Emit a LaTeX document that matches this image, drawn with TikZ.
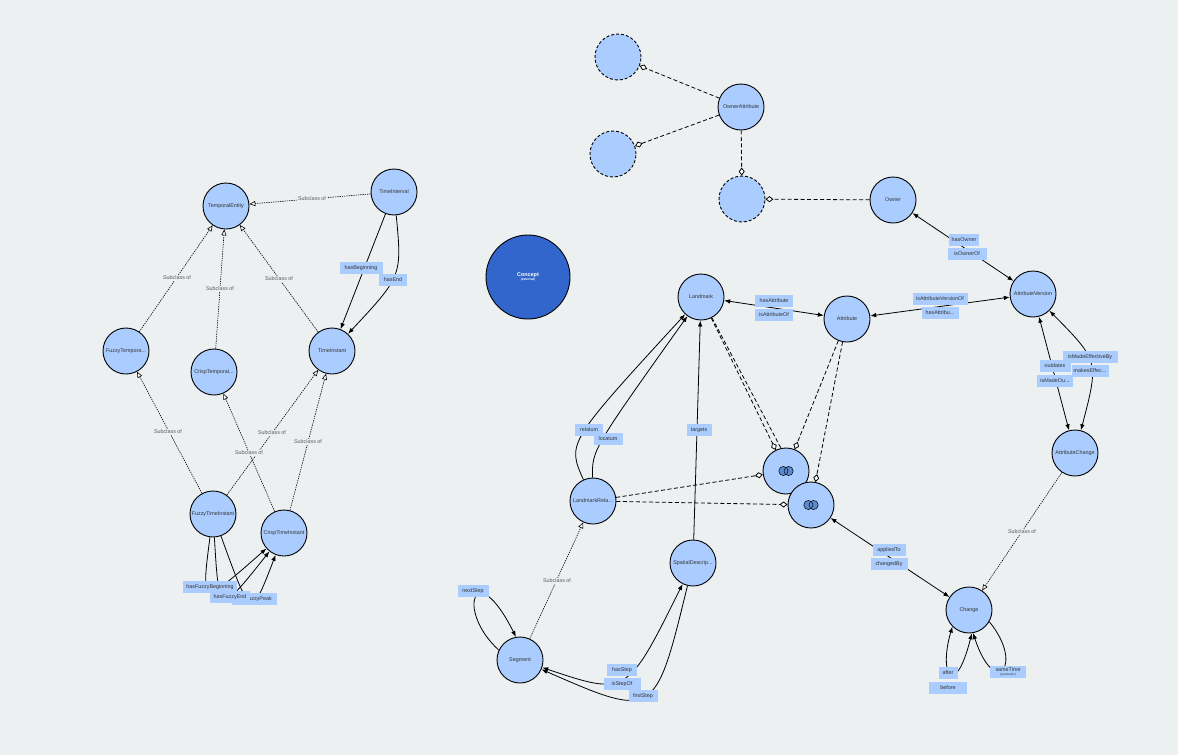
\documentclass[tikz,border=0pt]{standalone}
\usepackage{fontspec}
\setmainfont{Liberation Sans}
\usetikzlibrary{arrows.meta,calc}
\definecolor{bgc}{HTML}{ECF0F1}
\definecolor{clsblue}{HTML}{AACCFF}
\definecolor{extblue}{HTML}{3366CC}
\definecolor{iconblue}{HTML}{5A8CD2}
\pgfdeclarelayer{bgl}
\pgfdeclarelayer{edges}
\pgfsetlayers{bgl,edges,main}
\begin{document}
\begin{tikzpicture}[x=1pt,y=-1pt,
  font=\fontsize{5.4}{6}\selectfont,
  cls/.style={circle,draw=black,line width=0.9pt,fill=clsblue,minimum size=46pt,inner sep=0pt,text=black!80},
  dcls/.style={cls,dash pattern=on 3pt off 2pt},
  extcls/.style={circle,draw=black,line width=0.9pt,fill=extblue,minimum size=84pt,inner sep=0pt,text=white,align=center},
  prop/.style={fill=clsblue,text=black!80,inner xsep=1pt,inner ysep=0pt,minimum height=12.5pt},
  sub/.style={fill=bgc,text=black!65,inner sep=1.5pt},
  subedge/.style={line width=0.6pt,dash pattern=on 1.3pt off 1pt,-{Triangle[open,fill=white,length=6pt,width=5pt]}},
  objedge/.style={line width=0.8pt,-{Latex[length=6pt,width=4.5pt]}},
  biedge/.style={line width=0.8pt,{Latex[length=6pt,width=4.5pt]}-{Latex[length=6pt,width=4.5pt]}},
  setedge/.style={line width=0.8pt,dash pattern=on 4pt off 2.5pt,-{Diamond[fill=white,length=8pt,width=6pt]}},
]
\begin{pgfonlayer}{bgl}
\fill[bgc] (0,0) rectangle (1178,755);
\end{pgfonlayer}
\useasboundingbox (0,0) rectangle (1178,755);

% ---- class nodes ----
\node[cls] (te) at (226,206) {TemporalEntity};
\node[cls] (tint) at (394,192) {TimeInterval};
\node[cls] (fte) at (126,351) {FuzzyTempora...};
\node[cls] (cte) at (214,372) {CrispTemporal...};
\node[cls] (tin) at (332,351) {TimeInstant};
\node[cls] (fti) at (213,514) {FuzzyTimeInstant};
\node[cls] (cti) at (284,533) {CrispTimeInstant};
\node[extcls] (concept) at (528,277) {\textbf{Concept}\\[-2pt]{\fontsize{3.2}{4}\selectfont\bfseries (external)}};
\node[cls] (oa) at (741,107) {OwnerAttribute};
\node[dcls] (d1) at (618,57) {};
\node[dcls] (d2) at (613,154) {};
\node[dcls] (d3) at (742,199) {};
\node[cls] (owner) at (893,200) {Owner};
\node[cls] (lm) at (701,297) {Landmark};
\node[cls] (attr) at (847,319) {Attribute};
\node[cls] (av) at (1033,294) {AttributeVersion};
\node[cls] (ac) at (1075,453) {AttributeChange};
\node[cls] (lr) at (593,501) {LandmarkRela...};
\node[cls] (u1) at (786,471) {};
\node[cls] (u2) at (811,505) {};
\node[cls] (sd) at (693,563) {SpatialDescrip...};
\node[cls] (seg) at (520,660) {Segment};
\node[cls] (chg) at (969,610) {Change};

% union icons
\foreach \u in {u1,u2}{
  \fill[iconblue] ($(\u)+(-2.6,0)$) circle (4.6);
  \fill[iconblue] ($(\u)+(2.6,0)$) circle (4.6);
  \draw[line width=0.5pt] ($(\u)+(-2.6,0)$) circle (4.6);
  \draw[line width=0.5pt] ($(\u)+(2.6,0)$) circle (4.6);
}

% ---- edges ----
\begin{pgfonlayer}{edges}
% subclass
\draw[subedge] (tint) -- (te);
\draw[subedge] (fte) -- (te);
\draw[subedge] (cte) -- (te);
\draw[subedge] (tin) -- (te);
\draw[subedge] (fti) -- (fte);
\draw[subedge] (fti) -- (tin);
\draw[subedge] (cti) -- (cte);
\draw[subedge] (cti) -- (tin);
\draw[subedge] (ac) -- (chg);
\draw[subedge] (seg) -- (lr);
% object properties
\draw[objedge] (tint) -- (tin);
\draw[objedge] (tint) .. controls (402,276) .. (tin);
\draw[objedge] (fti) .. controls (201,606) .. (cti);
\draw[objedge] (fti) .. controls (219,615) .. (cti);
\draw[objedge] (fti) .. controls (251,619) .. (cti);
\draw[biedge] (lm) -- (attr);
\draw[biedge] (attr) -- (av);
\draw[biedge] (owner) -- (av);
\draw[biedge] (av) -- (ac);
\draw[biedge] (av) .. controls (1099,361) .. (ac);
\draw[biedge] (u2) -- (chg);
\draw[objedge] (sd) -- (lm);
\draw[objedge] (lr) .. controls (567,443) .. (lm);
\draw[objedge] (lr) .. controls (592,450) .. (lm);
\draw[biedge] (sd) .. controls (627,696) .. (seg);
\draw[objedge] (sd) .. controls (655,719) .. (seg);
\draw[objedge] (seg.155) .. controls (455,610) and (475,555) .. (seg.100);
\draw[biedge] (chg.225) .. controls (938,675) and (955,700) .. (chg.277);
\draw[objedge] (chg.-30) .. controls (1025,665) and (995,700) .. (chg.-80);
% set operators
\draw[setedge] (oa) -- (d1);
\draw[setedge] (oa) -- (d2);
\draw[setedge] (oa) -- (d3);
\draw[setedge] (owner) -- (d3);
\draw[setedge] (lm) -- (u1);
\draw[setedge] (lm) -- (u2);
\draw[setedge] (attr) -- (u1);
\draw[setedge] (attr) -- (u2);
\draw[setedge] (lr) -- (u1);
\draw[setedge] (lr) -- (u2);
\end{pgfonlayer}

% ---- subclass labels ----
\node[sub] (s1) at (312,199) {Subclass of};
\node[sub] (s2) at (177,278) {Subclass of};
\node[sub] (s3) at (220,289) {Subclass of};
\node[sub] (s4) at (279,279) {Subclass of};
\node[sub] (s5) at (168,432) {Subclass of};
\node[sub] (s6) at (272,433) {Subclass of};
\node[sub] (s7) at (249,453) {Subclass of};
\node[sub] (s8) at (308,442) {Subclass of};
\node[sub] (s9) at (557,581) {Subclass of};
\node[sub] (s10) at (1022,532) {Subclass of};

% ---- property labels ----
\node[prop,minimum width=43pt] (p1) at (361,268) {hasBeginning};
\node[prop,minimum width=28pt] (p2) at (393,280) {hasEnd};
\node[prop,minimum width=54pt] (p3) at (210,587) {hasFuzzyBeginning};
\node[prop,minimum width=45pt] (p4) at (254,599) {hasFuzzyPeak};
\node[prop,minimum width=40pt] (p5) at (230,597) {hasFuzzyEnd};
\node[prop,minimum width=38pt] (p6) at (774,301) {hasAttribute};
\node[prop,minimum width=38pt] (p7) at (774,315) {isAttributeOf};
\node[prop,minimum width=55pt] (p8) at (940,299) {isAttributeVersionOf};
\node[prop,minimum width=37pt] (p9) at (940,313) {hasAttribu...};
\node[prop,minimum width=30pt] (p10) at (964,240) {hasOwner};
\node[prop,minimum width=39pt] (p11) at (967,254) {isOwnerOf};
\node[prop,minimum width=31pt] (p12) at (1055,366) {outdates};
\node[prop,minimum width=36pt] (p13) at (1055,381) {isMadeOu...};
\node[prop,minimum width=55pt] (p14) at (1090,357) {isMadeEffectiveBy};
\node[prop,minimum width=37pt] (p15) at (1090,371) {makesEffec...};
\node[prop,minimum width=25pt] (p16) at (699,430) {targets};
\node[prop,minimum width=28pt] (p17) at (589,430) {relatum};
\node[prop,minimum width=29pt] (p18) at (608,439) {locatum};
\node[prop,minimum width=33pt] (p19) at (889,550) {appliedTo};
\node[prop,minimum width=37pt] (p20) at (889,564) {changedBy};
\node[prop,minimum width=31pt] (p21) at (473,591) {nextStep};
\node[prop,minimum width=30pt] (p22) at (622,670) {hasStep};
\node[prop,minimum width=37pt] (p23) at (622,684) {isStepOf};
\node[prop,minimum width=29pt] (p24) at (643,696) {firstStep};
\node[prop,minimum width=19pt] (p25) at (948,673) {after};
\node[prop,minimum width=38pt] (p26) at (948,688) {before};
\node[prop,minimum width=36pt,align=center,inner ysep=0.5pt] (p27) at (1008,672) {sameTime\\[-2.5pt]{\fontsize{3}{3.5}\selectfont (symmetric)}};
\end{tikzpicture}
\end{document}
